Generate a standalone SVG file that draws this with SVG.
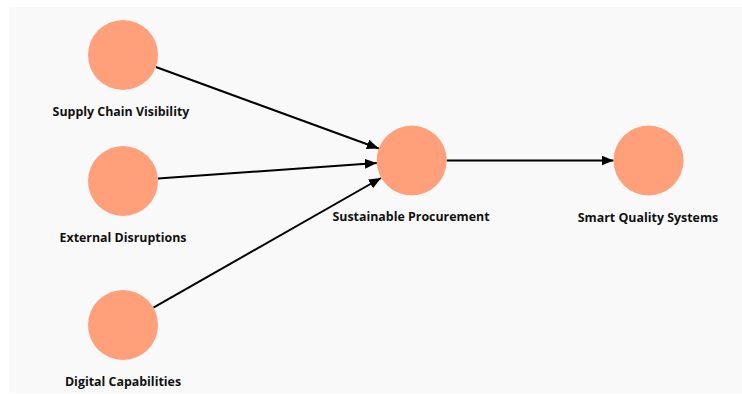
<svg xmlns="http://www.w3.org/2000/svg" width="742" height="394" viewBox="0 0 742 394">
<style>
.node circle{fill:#FFA07A;}
.node text{font-family:"Open Sans","Noto Sans",sans-serif;font-weight:700;font-size:12.4px;fill:#111;text-anchor:middle;}
.edge{stroke:#000;stroke-width:2;fill:none;marker-end:url(#arr);}
</style>
<defs>
<marker id="arr" markerUnits="userSpaceOnUse" markerWidth="13" markerHeight="11" refX="12" refY="5" orient="auto">
<path d="M0,0 L12,5 L0,10 z" fill="#000"/>
</marker>
</defs>
<rect x="0" y="0" width="742" height="394" fill="#fff"/>
<rect x="9" y="7" width="733" height="386" fill="#f9f9f9"/>
<g id="connectors">
<line class="edge" x1="155.9" y1="67" x2="378.8" y2="148.5"/>
<line class="edge" x1="157.9" y1="178.5" x2="376.8" y2="163"/>
<line class="edge" x1="153.4" y1="307.6" x2="381" y2="178"/>
<line class="edge" x1="446.7" y1="160.5" x2="613.5" y2="160.5"/>
</g>
<g id="node-scv" class="node"><circle cx="123" cy="55" r="35"/><text x="121" y="116">Supply Chain Visibility</text></g>
<g id="node-ed" class="node"><circle cx="123" cy="181" r="35"/><text x="123" y="242">External Disruptions</text></g>
<g id="node-dc" class="node"><circle cx="123" cy="325" r="35"/><text x="123" y="386">Digital Capabilities</text></g>
<g id="node-sp" class="node"><circle cx="411.7" cy="160.5" r="35"/><text x="411" y="221">Sustainable Procurement</text></g>
<g id="node-sqs" class="node"><circle cx="648.5" cy="160.5" r="35"/><text x="648" y="222">Smart Quality Systems</text></g>
</svg>
